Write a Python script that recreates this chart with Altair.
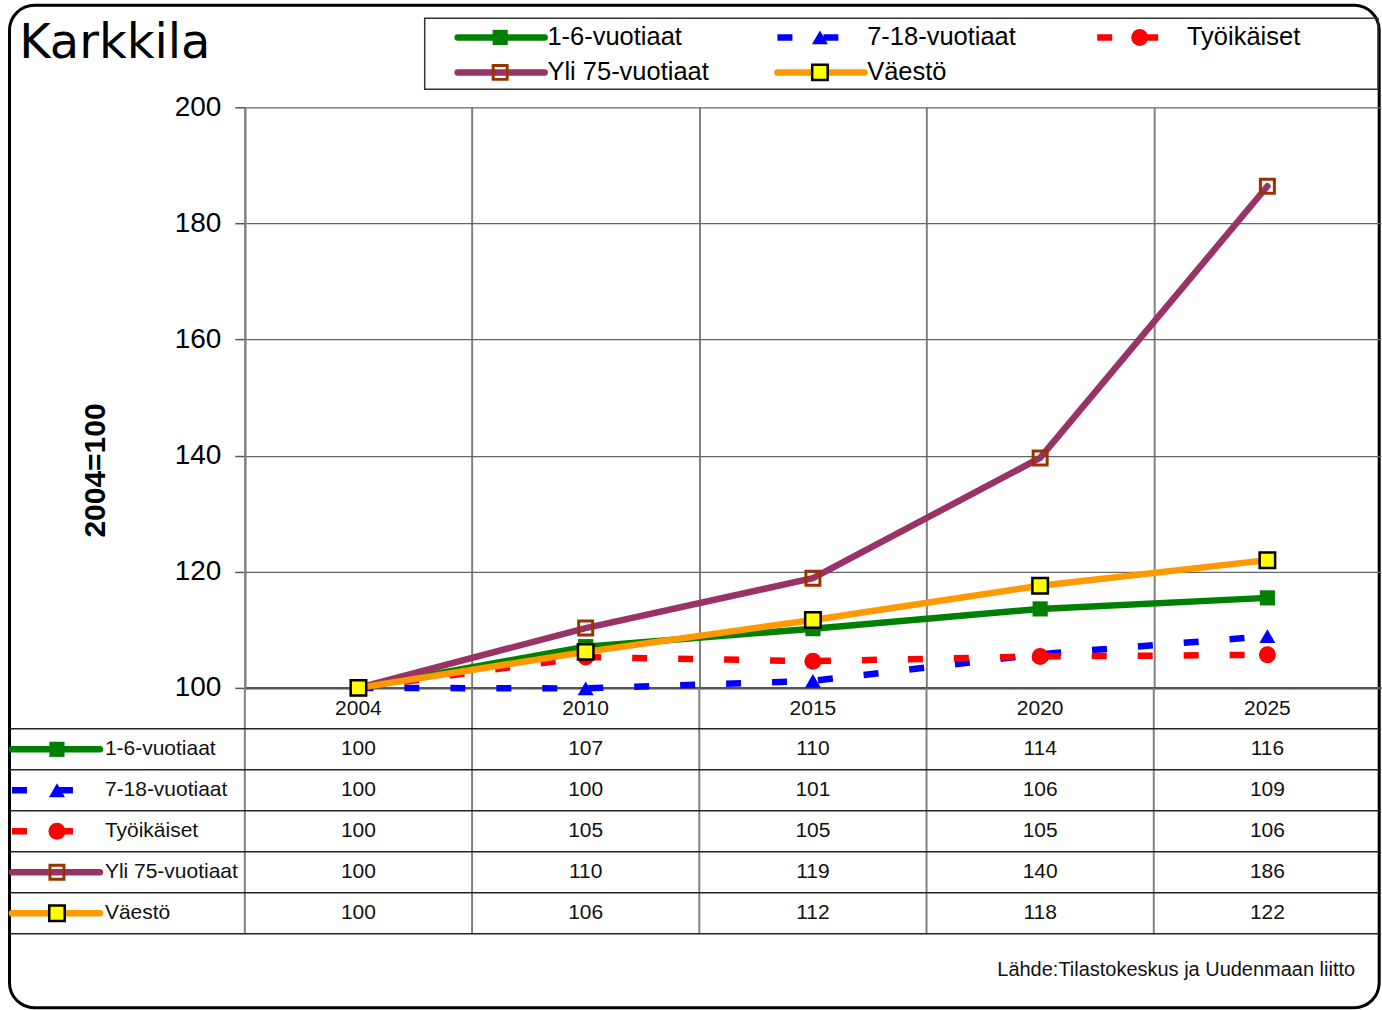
import altair as alt
import pandas as pd

# ---------------- data ----------------
title_text = "Karkkila"
y_title = "2004=100"
source_text = "Lähde:Tilastokeskus ja Uudenmaan liitto"

years = [2004, 2010, 2015, 2020, 2025]
series = ["1-6-vuotiaat", "7-18-vuotiaat", "Työikäiset", "Yli 75-vuotiaat", "Väestö"]
v_1_6 = [100, 107.1, 110.2, 113.6, 115.5]
v_7_18 = [100, 99.9, 101.2, 105.8, 108.9]
v_tyo = [100, 105.3, 104.6, 105.4, 105.7]
v_yli75 = [100, 110.3, 118.9, 139.6, 186.4]
v_vaesto = [100, 106.2, 111.7, 117.6, 122.0]
values = [v_1_6, v_7_18, v_tyo, v_yli75, v_vaesto]
y_ticks = [100, 120, 140, 160, 180, 200]

# ---------------- styles ----------------
FONT = "Liberation Sans, Arial, sans-serif"
NARROW = "Liberation Sans Narrow, Arial Narrow, Liberation Sans, sans-serif"
TFS = 21
LW = 6.5
DASH = [15, 31]
styles = {
    "1-6-vuotiaat": dict(color="#008000", dash=None, shape="square", fill="#008000", mstroke="#008000", msw=0, size=230),
    "7-18-vuotiaat": dict(color="#0000FF", dash=DASH, shape="triangle-up", fill="#0000FF", mstroke="#0000FF", msw=0, size=256),
    "Työikäiset": dict(color="#FF0000", dash=DASH, shape="circle", fill="#FF0000", mstroke="#FF0000", msw=0, size=289),
    "Yli 75-vuotiaat": dict(color="#993366", dash=None, shape="square", fill="transparent", mstroke="#993300", msw=3, size=196),
    "Väestö": dict(color="#FF9900", dash=None, shape="square", fill="#FFFF00", mstroke="#000000", msw=2.5, size=240),
}

W = 1137
PLOT_H = 581
TABLE_H = 246
LEG_H = 102

# ---------------- tables ----------------
rows = []
for s_i, s in enumerate(series):
    for c_i, yr in enumerate(years):
        rows.append({"series": s, "year": yr, "col": c_i, "row": s_i + 1, "value": values[s_i][c_i]})
df = pd.DataFrame(rows)
df["xc"] = df["col"] + 0.5
df["yc"] = df["row"] + 0.5

hdr = pd.DataFrame({"year": [str(y) for y in years], "col": range(len(years))})
hdr["xc"] = hdr["col"] + 0.5
hdr["yc"] = 0.52

leg = pd.DataFrame({"series": series, "i": range(len(series))})
leg["col"] = leg["i"] % 3
leg["row"] = leg["i"] // 3
leg["yr"] = leg["row"] + 0.03
leg["x0"] = 0.9367 + leg["col"] * 1.4072
leg["x1"] = leg["x0"] + 0.3826
leg["xm"] = leg["x0"] + 0.187
leg["xt"] = leg["x0"] + 0.395

tl = pd.DataFrame({"series": series, "row": range(1, len(series) + 1)})
tl["yc"] = tl["row"] + 0.5
tl["x0"] = -1.0246
tl["x1"] = -0.6376
tl["xm"] = -0.8267
tl["xt"] = -0.6157

vlines = pd.DataFrame({"k": range(len(years))})
hlines = pd.DataFrame({"k": range(1, len(series) + 2)})
one = pd.DataFrame({"a": [0]})

FRAME_X0 = -1.0356
FRAME_X1 = 4.992


def line_props(st):
    p = dict(color=st["color"], strokeWidth=LW, strokeJoin="round")
    if st["dash"]:
        p.update(strokeDash=st["dash"], strokeCap="butt")
    else:
        p.update(strokeCap="round")
    return p


def point_props(st):
    return dict(shape=st["shape"], size=st["size"], fill=st["fill"], stroke=st["mstroke"],
                strokeWidth=st["msw"], filled=True, opacity=1, fillOpacity=1)


# ---------------- legend / title strip ----------------
LX = alt.Scale(domain=[0, 5])
LY = alt.Scale(domain=[-0.886, 2.028], reverse=True)

frame = alt.Chart(one).mark_rect(fillOpacity=0, stroke="black", strokeWidth=3, cornerRadius=25).encode(
    x=alt.datum(FRAME_X0, scale=LX, axis=None), x2=alt.datum(FRAME_X1),
    y=alt.datum(-0.886, scale=LY, axis=None), y2=alt.datum(27.77))
title = alt.Chart(one).mark_text(text=title_text, font="DejaVu Sans", fontSize=48, align="left",
                                 baseline="middle", color="black").encode(
    x=alt.datum(-0.9930, scale=LX, axis=None), y=alt.datum(0.228, scale=LY, axis=None))
legbox = alt.Chart(one).mark_rect(fillOpacity=0, stroke="#333333", strokeWidth=1.5).encode(
    x=alt.datum(0.7916, scale=LX, axis=None), x2=alt.datum(4.987),
    y=alt.datum(-0.5146, scale=LY, axis=None), y2=alt.datum(1.514))
leg_layers = [frame, title, legbox]
for s in series:
    st = styles[s]
    b = alt.Chart(leg).transform_filter(alt.datum.series == s)
    leg_layers.append(b.mark_rule(**line_props(st)).encode(
        x=alt.X("x0:Q", scale=LX, axis=None), x2="x1:Q", y=alt.Y("yr:Q", scale=LY, axis=None)))
    leg_layers.append(b.mark_point(**point_props(st)).encode(
        x=alt.X("xm:Q", scale=LX, axis=None), y=alt.Y("yr:Q", scale=LY, axis=None)))
leg_layers.append(alt.Chart(leg).mark_text(font=FONT, fontSize=25.5, align="left", baseline="middle", color="black").encode(
    x=alt.X("xt:Q", scale=LX, axis=None), y=alt.Y("yr:Q", scale=LY, axis=None), text="series:N"))
legend_chart = alt.layer(*leg_layers).properties(width=W, height=LEG_H)

# ---------------- main plot ----------------
X = alt.X("xc:Q", scale=alt.Scale(domain=[0, 5]),
          axis=alt.Axis(values=[0, 1, 2, 3, 4], grid=True, gridColor="#808080", gridWidth=2,
                        labels=False, ticks=False, domain=True, domainColor="#555555",
                        domainWidth=2.5, title=None))
Y = alt.Y("value:Q", scale=alt.Scale(domain=[100, 200]),
          axis=alt.Axis(values=y_ticks, grid=True, gridColor="#666666", gridWidth=1.3,
                        tickSize=10, tickColor="#555555", tickWidth=1.5,
                        labelFont=FONT, labelFontSize=28, labelColor="black", labelPadding=14,
                        domainColor="#808080", domainWidth=2,
                        title=y_title, titleFont=FONT, titleFontSize=30, titleFontWeight="bold",
                        titleColor="black", titleX=-149, titleY=363, titleAngle=270,
                        titleAlign="center", titleBaseline="middle"))
plot_layers = []
for s in series:
    st = styles[s]
    b = alt.Chart(df).transform_filter(alt.datum.series == s)
    plot_layers.append(b.mark_line(**line_props(st)).encode(x=X, y=Y))
    plot_layers.append(b.mark_point(**point_props(st)).encode(x=X, y=Y))
plot = alt.layer(*plot_layers).properties(width=W, height=PLOT_H)

# ---------------- data table ----------------
TX = alt.Scale(domain=[0, 5])
TY = alt.Scale(domain=[0, 6], reverse=True)

t_layers = [
    alt.Chart(vlines).mark_rule(color="#808080", strokeWidth=2).encode(
        x=alt.X("k:Q", scale=TX, axis=None), y=alt.datum(0, scale=TY, axis=None), y2=alt.datum(6)),
    alt.Chart(hlines).mark_rule(color="#222222", strokeWidth=1.5).encode(
        x=alt.datum(FRAME_X0, scale=TX, axis=None), x2=alt.datum(5), y=alt.Y("k:Q", scale=TY, axis=None)),
    alt.Chart(hdr).mark_text(font=NARROW, fontSize=TFS, color="#111111", baseline="middle").encode(
        x=alt.X("xc:Q", scale=TX, axis=None), y=alt.Y("yc:Q", scale=TY, axis=None), text="year:N"),
    alt.Chart(df).mark_text(font=NARROW, fontSize=TFS, color="#111111", baseline="middle").encode(
        x=alt.X("xc:Q", scale=TX, axis=None), y=alt.Y("yc:Q", scale=TY, axis=None),
        text=alt.Text("value:Q", format=".0f")),
]
for s in series:
    st = styles[s]
    b = alt.Chart(tl).transform_filter(alt.datum.series == s)
    t_layers.append(b.mark_rule(**line_props(st)).encode(
        x=alt.X("x0:Q", scale=TX, axis=None), x2="x1:Q", y=alt.Y("yc:Q", scale=TY, axis=None)))
    t_layers.append(b.mark_point(**point_props(st)).encode(
        x=alt.X("xm:Q", scale=TX, axis=None), y=alt.Y("yc:Q", scale=TY, axis=None)))
t_layers.append(alt.Chart(tl).mark_text(font=NARROW, fontSize=TFS, color="#111111", align="left", baseline="middle").encode(
    x=alt.X("xt:Q", scale=TX, axis=None), y=alt.Y("yc:Q", scale=TY, axis=None), text="series:N"))
t_layers.append(alt.Chart(one).mark_text(text=source_text, font=NARROW, fontSize=20, color="#111111",
                                         align="right", baseline="middle").encode(
    x=alt.datum(4.886, scale=TX, axis=None), y=alt.datum(6.88, scale=TY, axis=None)))
table = alt.layer(*t_layers).properties(width=W, height=TABLE_H)

chart = alt.vconcat(legend_chart, plot, table, spacing=0, bounds="flush").configure_view(
    stroke=None).properties(padding={"left": 8, "top": 3, "right": 0, "bottom": 0}, background="white")

chart.save("out.html", embed_options={"renderer": "svg", "actions": False})
